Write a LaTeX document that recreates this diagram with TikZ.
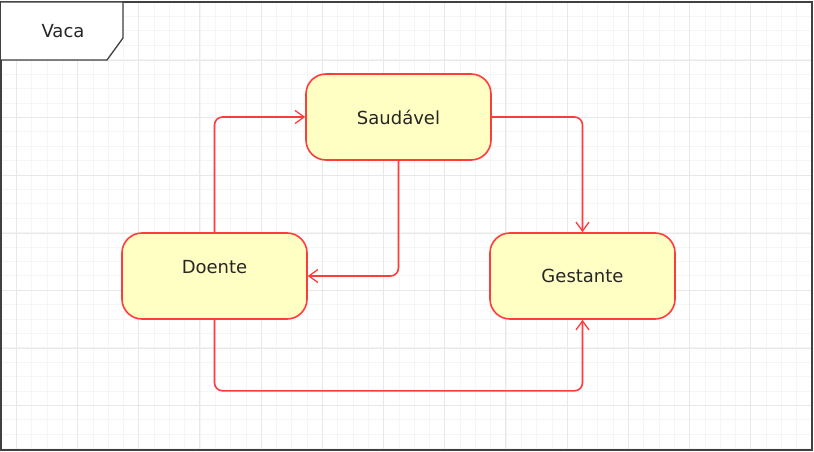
\documentclass[tikz,border=0pt]{standalone}
\usepackage{fontspec}
\setmainfont{DejaVu Sans}
\usetikzlibrary{arrows.meta}
\definecolor{statered}{RGB}{255,60,60}
\definecolor{statefill}{RGB}{255,255,196}
\definecolor{framegray}{RGB}{64,64,64}
\begin{document}
\begin{tikzpicture}[x=1pt, y=-1pt, line width=1.6pt, rounded corners=0pt,
state node/.style={rectangle, draw=statered, fill=statefill, rounded corners=20pt, minimum width=185pt, minimum height=86pt, inner sep=0pt, font=\fontsize{18}{21}\selectfont, text=black!85},
flow/.style={draw=statered, rounded corners=8pt, -{Straight Barb[length=9pt,width=13pt,line width=1.3pt]}}]%
\useasboundingbox (0,0) rectangle (814,452);
% grid
\begin{scope}[line width=0.6pt]
\foreach \i in {0,...,53} \draw[black!4] (1+15.3*\i,2) -- (1+15.3*\i,450);
\foreach \i in {0,...,31} \draw[black!4] (1,2+14.4*\i) -- (812,2+14.4*\i);
\foreach \i in {0,...,13} \draw[black!9] (16+61.2*\i,2) -- (16+61.2*\i,450);
\foreach \i in {1,...,7} \draw[black!9] (1,2.4+57.6*\i) -- (812,2.4+57.6*\i);
\end{scope}
\draw[framegray, line width=1.6pt] (1,2) rectangle (812,450);
\filldraw[framegray, fill=white, line width=1.3pt] (1,2) -- (123,2) -- (123,38) -- (107,60) -- (1,60);
\node[font=\fontsize{18}{21}\selectfont, text=black!85] (vaca) at (63,31) {Vaca};
\begin{scope}
\node[state node] (saudavel) at (398.5,117) {Saudável};
\node[state node, text height=13pt, text depth=19pt] (doente) at (214.5,276) {Doente};
\node[state node] (gestante) at (582.5,276) {Gestante};
\end{scope}
\begin{scope}
\draw[flow] (doente.north) |- (saudavel.west);
\draw[flow] (saudavel.east) -| (gestante.north);
\draw[flow] (saudavel.south) |- (doente.east);
\draw[flow] (doente.south) -- ++(0,71) -| (gestante.south);
\end{scope}
\end{tikzpicture}
\end{document}
